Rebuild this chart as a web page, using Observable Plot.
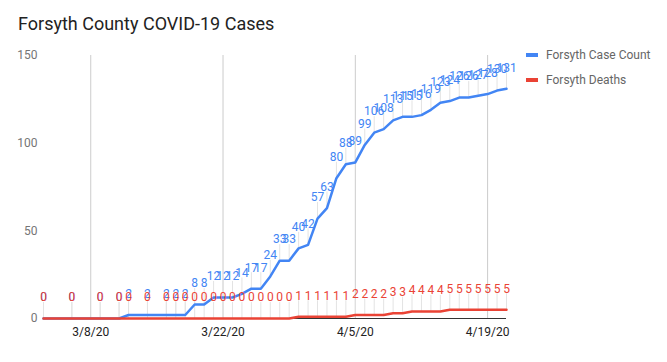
<!DOCTYPE html>
<html>
<head>
<meta charset="utf-8">
<script src="https://cdn.jsdelivr.net/npm/d3@7"></script>
<script src="https://cdn.jsdelivr.net/npm/@observablehq/plot@0.6"></script>
<style>
  html, body { margin: 0; padding: 0; background: #fff; }
  #wrap { position: relative; width: 667px; height: 362px; overflow: hidden; font-family: Roboto, "Noto Sans", sans-serif; }
  #title { box-sizing: border-box; height: 40px; padding: 14px 0 0 18px; font-size: 18px; line-height: 20px; color: #222; white-space: nowrap; }
  #chart svg { display: block; }
  .sw { position: absolute; width: 12px; height: 4px; }
  .lg { position: absolute; font-size: 12px; line-height: 14px; color: #666; white-space: nowrap; }
</style>
</head>
<body>
<div id="wrap">
  <div id="title">Forsyth County COVID-19 Cases</div>
  <div id="chart"></div>
  <div id="legend"></div>
</div>
<script>
// ---- data ----
const dates = [
  "2020-03-03","2020-03-06","2020-03-09","2020-03-11","2020-03-12","2020-03-14",
  "2020-03-16","2020-03-17","2020-03-18","2020-03-19","2020-03-20","2020-03-21",
  "2020-03-22","2020-03-23","2020-03-24","2020-03-25","2020-03-26","2020-03-27",
  "2020-03-28","2020-03-29","2020-03-30","2020-03-31","2020-04-01","2020-04-02",
  "2020-04-03","2020-04-04","2020-04-05","2020-04-06","2020-04-07","2020-04-08",
  "2020-04-09","2020-04-10","2020-04-11","2020-04-12","2020-04-13","2020-04-14",
  "2020-04-15","2020-04-16","2020-04-17","2020-04-18","2020-04-19","2020-04-20",
  "2020-04-21"
];
const caseCount = [
  0, 0, 0, 0, 2, 2,
  2, 2, 2, 8, 8, 12,
  12, 12, 14, 17, 17, 24,
  33, 33, 40, 42, 57, 63,
  80, 88, 89, 99, 106, 108,
  113, 115, 115, 116, 119, 123,
  124, 126, 126, 127, 128, 130,
  131
];
const deathCount = [
  0, 0, 0, 0, 0, 0,
  0, 0, 0, 0, 0, 0,
  0, 0, 0, 0, 0, 0,
  0, 0, 1, 1, 1, 1,
  1, 1, 2, 2, 2, 2,
  3, 3, 4, 4, 4, 4,
  5, 5, 5, 5, 5, 5,
  5
];
const seriesNames = ["Forsyth Case Count", "Forsyth Deaths"];
const seriesColors = ["#4285F4", "#EA4335"];
const xTickDates = ["2020-03-08", "2020-03-22", "2020-04-05", "2020-04-19"];
const yTicks = [0, 50, 100, 150];

// ---- build ----
const parse = d3.utcParse("%Y-%m-%d");
const rows = dates.map((d, i) => ({date: parse(d), cases: caseCount[i], deaths: deathCount[i]}));
const xt = xTickDates.map(parse);
const [blue, red] = seriesColors;

const chart = Plot.plot({
  width: 667,
  height: 322,
  marginLeft: 43,
  marginRight: 161,
  marginTop: 15,
  marginBottom: 44,
  style: {fontFamily: "Roboto, 'Noto Sans', sans-serif", fontSize: "12px", background: "#fff", overflow: "visible"},
  x: {type: "utc", domain: [rows[0].date, rows[rows.length - 1].date]},
  y: {domain: [0, 150]},
  marks: [
    Plot.ruleX(xt, {stroke: "#cccccc", strokeWidth: 1}),
    Plot.ruleX(rows, {x: "date", y1: "cases", y2: "cases", insetTop: -16, stroke: "#e3e3e3", strokeWidth: 1}),
    Plot.ruleX(rows, {x: "date", y1: "deaths", y2: "deaths", insetTop: -16, stroke: "#e3e3e3", strokeWidth: 1}),
    Plot.ruleY([0], {stroke: "#333", strokeWidth: 1}),
    Plot.line(rows, {x: "date", y: "cases", stroke: blue, strokeWidth: 2.5}),
    Plot.line(rows, {x: "date", y: "deaths", stroke: red, strokeWidth: 2.5}),
    Plot.text(rows, {x: "date", y: "cases", text: d => String(d.cases), dy: -21, fill: blue, fontSize: 12}),
    Plot.text(rows, {x: "date", y: "deaths", text: d => String(d.deaths), dy: -21, fill: red, fontSize: 12}),
    Plot.axisX(xt, {tickSize: 0, tickPadding: 9, tickFormat: d3.utcFormat("%-m/%-d/%y"), fill: "#222", fontSize: 12, label: null}),
    Plot.axisY(yTicks, {tickSize: 0, tickPadding: 6, fill: "#757575", fontSize: 12, label: null})
  ]
});
document.getElementById("chart").appendChild(chart);

// ---- legend ----
const legend = document.getElementById("legend");
seriesNames.forEach((name, i) => {
  const cy = 55 + i * 24.5;
  const sw = document.createElement("div");
  sw.className = "sw";
  sw.style.left = "526px";
  sw.style.top = (cy - 2) + "px";
  sw.style.background = seriesColors[i];
  legend.appendChild(sw);
  const t = document.createElement("div");
  t.className = "lg";
  t.style.left = "546px";
  t.style.top = (cy - 7) + "px";
  t.textContent = name;
  legend.appendChild(t);
});
</script>
</body>
</html>
